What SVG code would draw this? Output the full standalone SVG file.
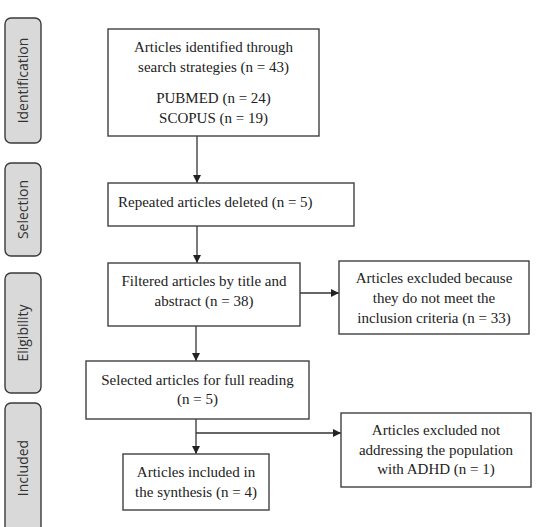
<svg xmlns="http://www.w3.org/2000/svg" width="541" height="527" viewBox="0 0 541 527">
<style>
.side{fill:#d9d9d9;stroke:#3a3a3a;stroke-width:1.4}
.stxt{font-family:"Open Sans","Noto Sans",sans-serif;font-size:14px;fill:#333;text-anchor:middle}
.box{fill:#fff;stroke:#404040;stroke-width:1.4}
.t{font-family:"Liberation Serif","Times New Roman",serif;font-size:15px;fill:#222;text-anchor:middle}
.c{fill:none;stroke:#333;stroke-width:1.3}
</style>
<defs>
<marker id="ah" viewBox="0 0 10 10" refX="10" refY="5" markerWidth="8" markerHeight="8" markerUnits="userSpaceOnUse" orient="auto">
<path d="M0,0 L10,5 L0,10 z" fill="#222"/>
</marker>
</defs>
<rect width="541" height="527" fill="#fff"/>
<g id="side-identification">
<rect class="side" x="5" y="18" width="36" height="125" rx="6"/>
<text class="stxt" transform="translate(28,80.5) rotate(-90)">Identification</text>
</g>
<g id="side-selection">
<rect class="side" x="5" y="163" width="36" height="93" rx="6"/>
<text class="stxt" transform="translate(28,209.5) rotate(-90)">Selection</text>
</g>
<g id="side-eligibility">
<rect class="side" x="5" y="273" width="36" height="120" rx="6"/>
<text class="stxt" transform="translate(28,333) rotate(-90)">Eligibility</text>
</g>
<g id="side-included">
<rect class="side" x="5" y="403" width="36" height="140" rx="6"/>
<text class="stxt" transform="translate(28,468) rotate(-90)">Included</text>
</g>
<g id="connectors">
<line class="c" x1="197" y1="136" x2="197" y2="183" marker-end="url(#ah)"/>
<line class="c" x1="197" y1="226" x2="197" y2="263" marker-end="url(#ah)"/>
<line class="c" x1="300" y1="293" x2="339" y2="293" marker-end="url(#ah)"/>
<line class="c" x1="196" y1="326" x2="196" y2="361" marker-end="url(#ah)"/>
<line class="c" x1="196" y1="419" x2="196" y2="454" marker-end="url(#ah)"/>
<line class="c" x1="196" y1="433" x2="341" y2="433" marker-end="url(#ah)"/>
</g>
<g id="n1">
<rect class="box" x="108" y="29" width="211" height="107"/>
<text class="t" x="213.5" y="52">Articles identified through</text>
<text class="t" x="213.5" y="72">search strategies (n = 43)</text>
<text class="t" x="213.5" y="103">PUBMED (n = 24)</text>
<text class="t" x="213.5" y="123">SCOPUS (n = 19)</text>
</g>
<g id="n2">
<rect class="box" x="108" y="183" width="246" height="43"/>
<text class="t" x="118" y="207" style="text-anchor:start">Repeated articles deleted (n = 5)</text>
</g>
<g id="n3">
<rect class="box" x="108" y="263" width="192" height="63"/>
<text class="t" x="204" y="286">Filtered articles by title and</text>
<text class="t" x="204" y="306">abstract (n = 38)</text>
</g>
<g id="n4">
<rect class="box" x="339" y="261" width="190" height="73"/>
<text class="t" x="434" y="283">Articles excluded because</text>
<text class="t" x="434" y="303">they do not meet the</text>
<text class="t" x="434" y="323">inclusion criteria (n = 33)</text>
</g>
<g id="n5">
<rect class="box" x="86" y="361" width="223" height="58"/>
<text class="t" x="197.5" y="385">Selected articles for full reading</text>
<text class="t" x="197.5" y="404">(n = 5)</text>
</g>
<g id="n6">
<rect class="box" x="123" y="454" width="146" height="56"/>
<text class="t" x="196" y="477">Articles included in</text>
<text class="t" x="196" y="497">the synthesis (n = 4)</text>
</g>
<g id="n7">
<rect class="box" x="341" y="413" width="190" height="74"/>
<text class="t" x="436" y="435">Articles excluded not</text>
<text class="t" x="436" y="455">addressing the population</text>
<text class="t" x="436" y="474">with ADHD (n = 1)</text>
</g>
</svg>
